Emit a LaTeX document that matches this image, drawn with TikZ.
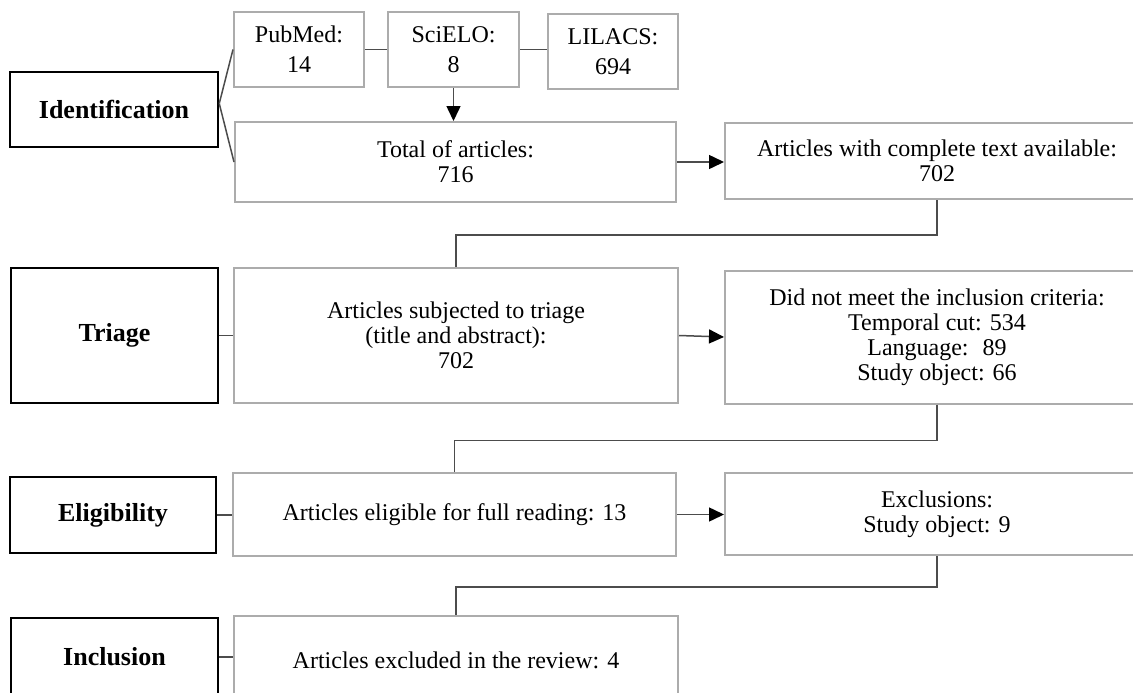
\documentclass[tikz,border=0pt]{standalone}
\usepackage{fontspec}
\setmainfont{Liberation Serif}
\usetikzlibrary{arrows.meta}
\begin{document}
\begin{tikzpicture}[x=1pt,y=-1pt,
  gbox/.style={draw=gray!65, line width=2pt, align=center, inner sep=0pt, font=\fontsize{24}{25}\selectfont, text=black},
  srcbox/.style={gbox, font=\fontsize{24}{30}\selectfont},
  sbox/.style={draw=black, line width=2.5pt, align=center, inner sep=0pt, font=\fontsize{26}{27}\selectfont\bfseries},
  conn/.style={draw=black!70, line width=1.5pt},
  arr/.style={conn, -{Triangle[length=15pt,width=14pt,color=black]}}
]
\clip (0,0) rectangle (1133,693);
\fill[white] (0,0) rectangle (1133,693);

% Identification row
\node[sbox, minimum width=208pt, minimum height=75pt] (ident) at (114,109.5) {Identification};
\node[srcbox, minimum width=130pt, minimum height=75pt] (pubmed) at (299,49.5) {PubMed:\\14};
\node[srcbox, minimum width=131pt, minimum height=75pt] (scielo) at (453.5,49.5) {SciELO:\\8};
\node[srcbox, minimum width=130pt, minimum height=75pt] (lilacs) at (613,51.5) {LILACS:\\694};
\node[gbox, minimum width=441pt, minimum height=80pt] (total) at (455.5,162) {Total of articles:\\716};
\node[gbox, minimum width=424pt, minimum height=76pt] (complete) at (937,161) {Articles with complete text available:\\702};

% Triage row
\node[sbox, minimum width=207pt, minimum height=135pt] (triage) at (114.5,335.5) {Triage};
\node[gbox, minimum width=444pt, minimum height=135pt] (triagebox) at (456,335.5) {Articles subjected to triage\\(title and abstract):\\702};
\node[gbox, minimum width=424pt, minimum height=133pt] (notmeet) at (937,337) {Did not meet the inclusion criteria:\\Temporal cut: 534\\Language: \ 89\\Study object: 66};

% Eligibility row
\node[sbox, minimum width=206pt, minimum height=76pt] (elig) at (113,515) {Eligibility};
\node[gbox, minimum width=443pt, minimum height=83pt] (eligbox) at (454.5,514.5) {Articles eligible for full reading: 13};
\node[gbox, minimum width=424pt, minimum height=82pt] (excl) at (937,514) {Exclusions:\\Study object: 9};

% Inclusion row
\node[sbox, minimum width=207pt, minimum height=78pt] (incl) at (114.5,657) {Inclusion};
\node[gbox, minimum width=444pt, minimum height=88pt] (exclbox) at (456,660) {Articles excluded in the review: 4};

% connectors
\draw[conn] ([yshift=6pt]ident.east) -- (pubmed.west);
\draw[conn] ([yshift=6pt]ident.east) -- (total.west);
\draw[conn] (pubmed.east) -- (scielo.west);
\draw[conn] (scielo.east) -- (scielo.east -| lilacs.west);
\draw[arr] (scielo.south) -- (scielo.south |- total.north);
\draw[arr] (total.east) -- (total.east -| complete.west);
\draw[conn] (complete.south) -- ++(0,35) -| (triagebox.north);

\draw[conn] (triage.east) -- (triagebox.west);
\draw[arr] (triagebox.east) -- (notmeet.west);
\draw[conn] (notmeet.south) -- ++(0,36) -| (eligbox.north);

\draw[conn] (elig.east) -- (elig.east -| eligbox.west);
\draw[arr] (eligbox.east) -- (eligbox.east -| excl.west);
\draw[conn] (excl.south) -- ++(0,31) -| (exclbox.north);

\draw[conn] (incl.east) -- (incl.east -| exclbox.west);
\end{tikzpicture}
\end{document}
